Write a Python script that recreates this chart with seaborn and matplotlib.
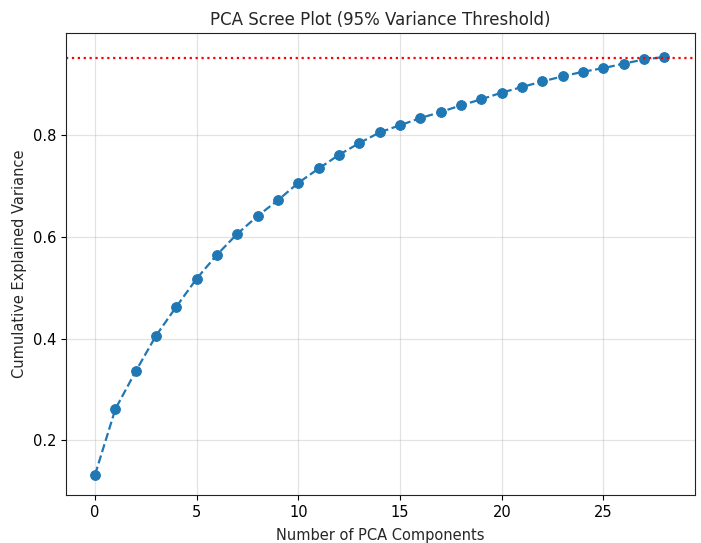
import matplotlib
matplotlib.use("Agg")
import matplotlib.pyplot as plt
import seaborn as sns
import pandas as pd

components = list(range(29))
cumulative_variance = [0.133, 0.262, 0.336, 0.406, 0.463, 0.518, 0.565, 0.606, 0.641, 0.672,
                       0.706, 0.734, 0.761, 0.784, 0.805, 0.819, 0.833, 0.845, 0.858, 0.870,
                       0.883, 0.894, 0.905, 0.915, 0.924, 0.931, 0.940, 0.948, 0.953]
threshold = 0.95

sns.set_style("ticks")
plt.rcParams['font.family'] = ['DejaVu Sans']

df = pd.DataFrame({"comp": components, "cum": cumulative_variance})

fig = plt.figure(figsize=(7.01, 5.43), dpi=100)
ax = fig.add_axes([66/701, 1-495/543, (695-66)/701, (495-33)/543])

sns.lineplot(data=df, x="comp", y="cum", ax=ax, marker="o", linestyle="--",
             color="#1f77b4", markersize=7, markeredgecolor="#1f77b4", linewidth=1.6)
ax.axhline(threshold, color="red", linestyle=":", linewidth=1.6)

ax.grid(True, color="#b0b0b0", alpha=0.35, linewidth=0.9)
ax.set_xticks([0, 5, 10, 15, 20, 25])
ax.set_yticks([0.2, 0.4, 0.6, 0.8])
ax.set_xlim(-1.43, 29.5)
ax.set_ylim(0.093, 1.0)
ax.set_title("PCA Scree Plot (95% Variance Threshold)", fontsize=12)
ax.set_xlabel("Number of PCA Components", fontsize=10.5, labelpad=6)
ax.set_ylabel("Cumulative Explained Variance", fontsize=10.5)
ax.tick_params(labelsize=10.5, colors="black")
for s in ax.spines.values():
    s.set_visible(True)
    s.set_color("#222222")

fig.savefig("out.png", dpi=100)
